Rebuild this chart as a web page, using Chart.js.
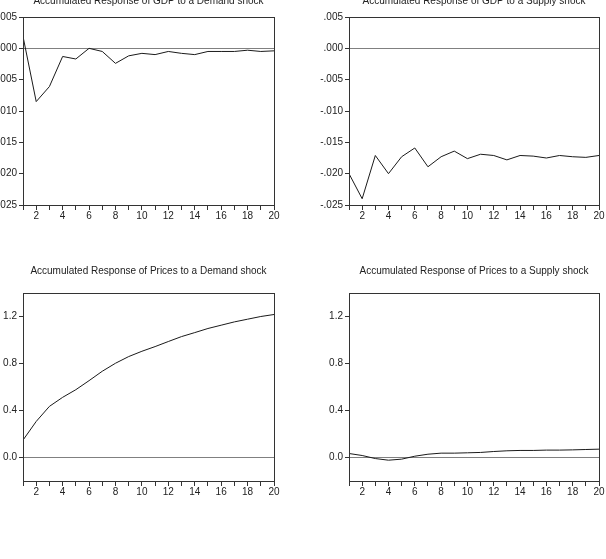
<!DOCTYPE html>
<html>
<head>
<meta charset="utf-8">
<script src="https://cdn.jsdelivr.net/npm/chart.js@4.4.1/dist/chart.umd.min.js"></script>
<style>
  html, body { margin: 0; padding: 0; background: #fff; overflow: hidden; }
  body { width: 606px; height: 559px; position: relative; }
  canvas { position: absolute; }
</style>
</head>
<body>
<canvas id="c1" width="310" height="235" style="left:-10px;top:-10px"></canvas>
<canvas id="c2" width="306" height="235" style="left:300px;top:-10px"></canvas>
<canvas id="c3" width="310" height="251" style="left:-10px;top:250px"></canvas>
<canvas id="c4" width="306" height="251" style="left:300px;top:250px"></canvas>
<script>
// periodos de la respuesta impulso
const periods = [1, 2, 3, 4, 5, 6, 7, 8, 9, 10, 11, 12, 13, 14, 15, 16, 17, 18, 19, 20];
const xTickLabels = [2, 4, 6, 8, 10, 12, 14, 16, 18, 20];

const gdpDemand = [0.0019, -0.0085, -0.0061, -0.0013, -0.0017, 0.0000, -0.0005, -0.0024, -0.0012, -0.0008,
                   -0.0010, -0.0005, -0.0008, -0.0010, -0.0005, -0.0005, -0.0005, -0.0003, -0.0005, -0.0004];
const gdpSupply = [-0.0200, -0.0240, -0.0171, -0.0200, -0.0173, -0.0159, -0.0189, -0.0173, -0.0164, -0.0176,
                   -0.0169, -0.0171, -0.0178, -0.0171, -0.0172, -0.0175, -0.0171, -0.0173, -0.0174, -0.0171];
const pricesDemand = [0.148, 0.307, 0.435, 0.512, 0.577, 0.654, 0.734, 0.802, 0.859, 0.904,
                      0.944, 0.987, 1.029, 1.063, 1.098, 1.126, 1.154, 1.177, 1.200, 1.217];
const pricesSupply = [0.034, 0.017, -0.009, -0.023, -0.014, 0.011, 0.028, 0.037, 0.037, 0.040,
                      0.043, 0.051, 0.057, 0.060, 0.060, 0.063, 0.063, 0.065, 0.068, 0.071];

const gdpTicks = [-0.025, -0.020, -0.015, -0.010, -0.005, 0.000, 0.005];
const priceTicks = [0.0, 0.4, 0.8, 1.2];

const FONT = 'Liberation Sans, Arial, Helvetica, sans-serif';
const INK = '#333333';

// marco completo alrededor del area del grafico
const framePlugin = {
    id: 'frame',
    afterDraw(chart) {
        const a = chart.chartArea;
        const ctx = chart.ctx;
        ctx.save();
        ctx.strokeStyle = INK;
        ctx.lineWidth = 1;
        ctx.strokeRect(Math.round(a.left) + 0.5, Math.round(a.top) + 0.5,
                       Math.round(a.right - a.left), Math.round(a.bottom - a.top));
        ctx.restore();
    }
};

function gdpLabel(v) {
    const s = Math.abs(v).toFixed(3).replace(/^0/, '');
    return (v < -1e-9 ? '-' : '') + s;
}

function makeChart(id, title, values, yMin, yMax, yTicks, yFmt, yWidth, padRight, titlePad) {
    const ctx = document.getElementById(id).getContext('2d');
    return new Chart(ctx, {
        type: 'line',
        data: {
            datasets: [{
                data: periods.map((p, i) => ({ x: p, y: values[i] })),
                borderColor: '#1a1a1a',
                borderWidth: 1,
                pointRadius: 0,
                tension: 0
            }]
        },
        options: {
            responsive: false,
            animation: false,
            events: [],
            layout: { padding: { left: 0, right: padRight, top: 0, bottom: 0 } },
            plugins: {
                legend: { display: false },
                tooltip: { enabled: false },
                title: {
                    display: true,
                    text: title,
                    fullSize: false,
                    color: '#222',
                    font: { family: FONT, size: 10, weight: 'normal' },
                    padding: titlePad
                }
            },
            scales: {
                x: {
                    type: 'linear',
                    min: 1,
                    max: 20,
                    afterBuildTicks: s => { s.ticks = periods.map(v => ({ value: v })); },
                    afterFit: s => { s.height = 20; },
                    ticks: {
                        autoSkip: false,
                        maxRotation: 0,
                        padding: 0,
                        color: '#222',
                        font: { family: FONT, size: 10 },
                        callback: v => xTickLabels.includes(v) ? String(v) : ''
                    },
                    grid: { drawOnChartArea: false, tickLength: 5, tickColor: INK },
                    border: { color: INK }
                },
                y: {
                    min: yMin,
                    max: yMax,
                    afterBuildTicks: s => { s.ticks = yTicks.map(v => ({ value: v })); },
                    afterFit: s => { s.width = yWidth; },
                    ticks: {
                        padding: 2,
                        color: '#222',
                        font: { family: FONT, size: 10 },
                        callback: v => yFmt(v)
                    },
                    grid: {
                        tickLength: 4,
                        tickColor: INK,
                        color: c => (c.tick && Math.abs(c.tick.value) < 1e-9) ? '#808080' : 'rgba(0,0,0,0)'
                    },
                    border: { color: INK }
                }
            }
        },
        plugins: [framePlugin]
    });
}

const topPad = { top: 5, bottom: 10 };
const botPad = { top: 15, bottom: 16 };

makeChart('c1', 'Accumulated Response of GDP to a Demand shock', gdpDemand,
          -0.025, 0.005, gdpTicks, gdpLabel, 33, 26, topPad);
makeChart('c2', 'Accumulated Response of GDP to a Supply shock', gdpSupply,
          -0.025, 0.005, gdpTicks, gdpLabel, 49, 7, topPad);
makeChart('c3', 'Accumulated Response of Prices to a Demand shock', pricesDemand,
          -0.2, 1.4, priceTicks, v => v.toFixed(1), 33, 26, botPad);
makeChart('c4', 'Accumulated Response of Prices to a Supply shock', pricesSupply,
          -0.2, 1.4, priceTicks, v => v.toFixed(1), 49, 7, botPad);
</script>
</body>
</html>
